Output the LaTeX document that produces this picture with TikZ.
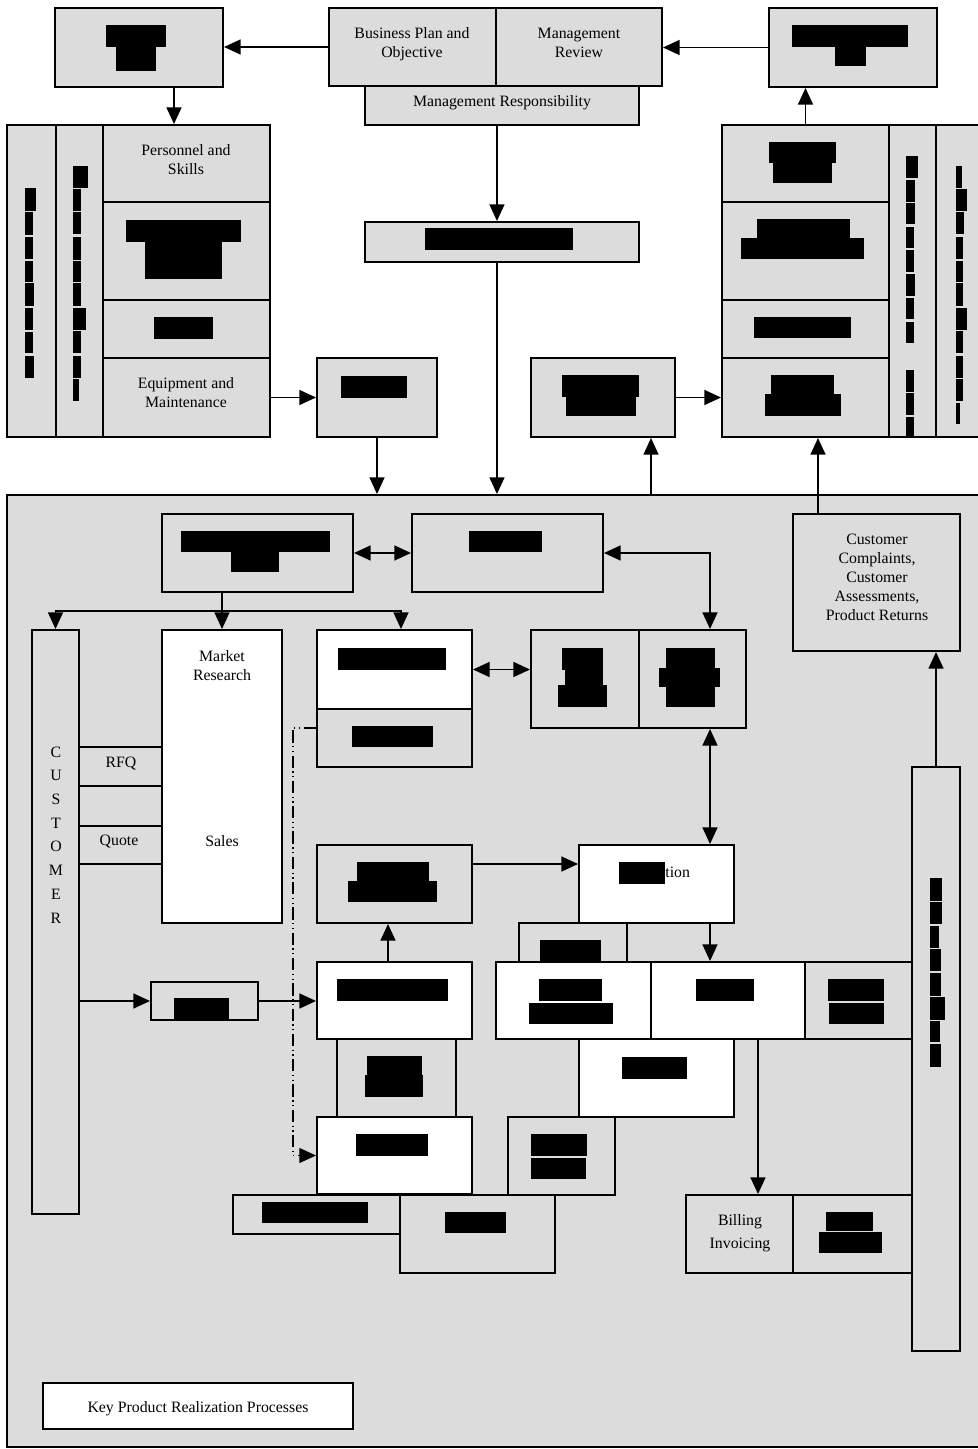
\documentclass[tikz,border=0pt]{standalone}
\usepackage{fontspec}
\setmainfont{Liberation Serif}
\usetikzlibrary{fit,arrows.meta}
\definecolor{boxgray}{RGB}{220,220,220}
\tikzset{
gbox/.style={draw, fill=boxgray, line width=1.1pt, inner sep=0pt},
wbox/.style={gbox, fill=white},
arr/.style={line width=1pt, -{Triangle[length=9.5pt,width=8.5pt]}},
darr/.style={line width=1pt, {Triangle[length=9.5pt,width=8.5pt]}-{Triangle[length=9.5pt,width=8.5pt]}},
ddot/.style={line width=0.7pt, dash pattern=on 7pt off 2pt on 0.7pt off 2pt on 0.7pt off 2pt,
	-{Triangle[length=9.5pt,width=8.5pt]}},
redact/.style={fill=black},
txt/.style={font=\fontsize{9}{10.8}\selectfont, align=center, inner sep=0pt}
}
\newcommand{\mkbox}[6]{\node[#1, fit={(#3,#4) (#5,#6)}] (#2) {};}

\begin{document}
\begin{tikzpicture}[x=0.02cm, y=-0.02cm]
	\useasboundingbox (0,0) rectangle (977,1449);
	% management level
	\mkbox{gbox}{plan}{55}{8}{223}{87}
	\mkbox{gbox}{bizplan}{329}{8}{496}{86}
	\mkbox{gbox}{mgmtrev}{496}{8}{662}{86}
	\mkbox{gbox}{mgmtresp}{365}{86}{639}{125}
	\mkbox{gbox}{topright}{769}{8}{937}{87}
	\mkbox{gbox}{midbox}{365}{222}{639}{262}
	% resources block
	\mkbox{gbox}{lcol1}{7}{125}{56}{437}
	\mkbox{gbox}{lcol2}{56}{125}{103}{437}
	\mkbox{gbox}{pers}{103}{125}{270}{202}
	\mkbox{gbox}{lcell2}{103}{202}{270}{300}
	\mkbox{gbox}{lcell3}{103}{300}{270}{358}
	\mkbox{gbox}{equip}{103}{358}{270}{437}
	\mkbox{gbox}{equipnext}{317}{358}{437}{437}
	% measurement block
	\mkbox{gbox}{rcell1}{722}{125}{889}{202}
	\mkbox{gbox}{rcell2}{722}{202}{889}{300}
	\mkbox{gbox}{rcell3}{722}{300}{889}{358}
	\mkbox{gbox}{rcell4}{722}{358}{889}{437}
	\mkbox{gbox}{rcol1}{889}{125}{936}{437}
	\mkbox{gbox}{rcol2}{936}{125}{990}{437}
	\mkbox{gbox}{redbox}{531}{358}{675}{437}
	% key processes
	\mkbox{gbox}{frame}{7}{495}{990}{1447}
	\mkbox{gbox}{ka}{162}{514}{353}{592}
	\mkbox{gbox}{kb}{412}{514}{603}{592}
	\mkbox{gbox}{cc}{793}{514}{960}{651}
	\mkbox{gbox}{cust}{32}{630}{79}{1214}
	\mkbox{gbox}{rfq}{79}{747}{162}{786}
	\mkbox{gbox}{blank}{79}{786}{162}{826}
	\mkbox{gbox}{quote}{79}{826}{162}{864}
	\mkbox{wbox}{sales}{162}{630}{282}{923}
	\mkbox{wbox}{kc}{317}{630}{472}{709}
	\mkbox{gbox}{kc2}{317}{709}{472}{767}
	\mkbox{gbox}{kd1}{531}{630}{639}{728}
	\mkbox{gbox}{kd2}{639}{630}{746}{728}
	\mkbox{gbox}{kg}{317}{845}{472}{923}
	\mkbox{wbox}{kf}{579}{845}{734}{923}
	\mkbox{gbox}{kq}{519}{923}{627}{962}
	\mkbox{wbox}{kp1}{496}{962}{651}{1039}
	\mkbox{wbox}{kp2}{651}{962}{805}{1039}
	\mkbox{gbox}{kp3}{805}{962}{912}{1039}
	\mkbox{gbox}{ksmall}{151}{982}{258}{1020}
	\mkbox{wbox}{kh}{317}{962}{472}{1039}
	\mkbox{gbox}{ki}{337}{1039}{456}{1117}
	\mkbox{wbox}{kj}{317}{1117}{472}{1194}
	\mkbox{wbox}{kn}{579}{1039}{734}{1117}
	\mkbox{gbox}{km}{508}{1117}{615}{1195}
	\mkbox{gbox}{kk}{233}{1195}{400}{1234}
	\mkbox{gbox}{kl}{400}{1195}{555}{1273}
	\mkbox{gbox}{bill}{686}{1195}{793}{1273}
	\mkbox{gbox}{kr}{793}{1195}{912}{1273}
	\mkbox{gbox}{tall}{912}{767}{960}{1351}
	\mkbox{wbox}{key}{43}{1383}{353}{1429}

	% texts
	\node[txt] (tbiz) at (412,44) {Business Plan and\\Objective};
	\node[txt] (trev) at (579,43) {Management\\Review};
	\node[txt] (tresp) at (502,103) {Management Responsibility};
	\node[txt] (tpers) at (186,160) {Personnel and\\Skills};
	\node[txt] (tequip) at (186,393) {Equipment and\\Maintenance};
	\node[txt] (tcc) at (877,577) {Customer\\Complaints,\\Customer\\Assessments,\\Product Returns};
	\node[txt] (tmr) at (222,666) {Market\\Research};
	\node[txt] (tsales) at (222,841) {Sales};
	\node[txt] (trfq) at (121,764) {RFQ};
	\node[txt] (tquote) at (119,842) {Quote};
	\node[txt, anchor=base west] (ttion) at (665,877) {tion};
	\node[txt] (tbill) at (740,1222) {Billing};
	\node[txt] (tinv) at (740,1245) {Invoicing};
	\node[txt] (tkey) at (198,1409) {Key Product Realization Processes};
	\foreach \l [count=\i from 0] in {C,U,S,T,O,M,E,R}
		\node[txt] (c\i) at (56,{752+23.7*\i}) {\l};

	% blacked out texts
	\foreach \xa/\ya/\xb/\yb in {106/25/166/47, 116/47/156/71, 792/25/908/47, 835/47/866/66,
		425/228/573/250, 126/220/241/242, 145/242/222/279, 154/317/213/339, 341/376/407/398,
		769/142/836/163, 773/163/832/183, 757/219/850/238, 741/238/864/259, 754/317/851/338,
		771/375/834/394, 765/394/841/416, 562/375/639/397, 566/397/636/416,
		181/531/330/552, 231/552/279/572, 469/531/542/552, 338/648/446/670, 352/726/433/747,
		562/648/603/670, 565/670/603/685, 558/685/607/707, 666/648/715/668, 659/668/720/687,
		666/687/715/707, 357/862/429/881, 348/881/437/902, 619/862/665/884, 540/940/601/962,
		539/979/602/1001, 529/1003/613/1024, 696/979/754/1001, 828/979/884/1001,
		829/1003/884/1024, 174/998/229/1019, 337/979/448/1001, 367/1056/422/1075,
		365/1075/423/1097, 356/1134/428/1156, 262/1202/368/1223, 445/1212/506/1233,
		531/1134/587/1156, 531/1158/586/1179, 622/1057/687/1079, 826/1212/873/1231,
		819/1232/882/1253}
		\fill[redact] (\xa,\ya) rectangle (\xb,\yb);
	\foreach \ya/\yb/\xb in {188/211/36, 212/235/33, 237/259/33, 261/282/33, 283/306/34,
		308/330/33, 332/353/33, 356/378/34}
		\fill[redact] (25,\ya) rectangle (\xb,\yb);
	\foreach \ya/\yb/\xb in {166/188/88, 189/211/81, 212/234/81, 237/260/81, 261/282/81,
		283/306/81, 308/330/86, 331/353/81, 356/378/81, 379/401/79}
		\fill[redact] (73,\ya) rectangle (\xb,\yb);
	\foreach \ya/\yb/\xb in {156/178/918, 180/202/915, 203/224/915, 227/248/914, 250/272/914,
		274/296/915, 298/319/914, 322/343/914, 370/392/914, 393/415/914, 417/437/914}
		\fill[redact] (906,\ya) rectangle (\xb,\yb);
	\foreach \ya/\yb/\xb in {166/188/962, 189/211/967, 212/234/964, 237/259/963, 261/282/963,
		283/306/963, 308/330/967, 331/353/963, 356/378/963, 379/401/963, 403/424/960}
		\fill[redact] (956,\ya) rectangle (\xb,\yb);
	\foreach \ya/\yb/\xb in {878/901/942, 902/924/942, 926/948/939, 949/971/941, 973/996/941,
		997/1020/945, 1021/1042/940, 1044/1067/941}
		\fill[redact] (930,\ya) rectangle (\xb,\yb);

	% connectors
	\draw[arr] (bizplan.west) -- (bizplan.west -| plan.east);
	\draw[arr] (plan.south -| 174,0) -- (pers.north -| 174,0);
	\draw[arr] (topright.west) -- (topright.west -| mgmtrev.east);
	\draw[arr] (rcell1.north) -- (rcell1.north |- topright.south);
	\draw[arr] (mgmtresp.south -| bizplan.south east) -- (midbox.north -| bizplan.south east);
	\draw[arr] (midbox.south -| bizplan.south east) -- (frame.north -| bizplan.south east);
	\draw[arr] (equip.east) -- (equip.east -| equipnext.west);
	\draw[arr] (equipnext.south) -- (equipnext.south |- frame.north);
	\draw[arr] (frame.north -| 651,0) -- (redbox.south -| 651,0);
	\draw[arr] (redbox.east) -- (redbox.east -| rcell4.west);
	\draw[arr] (cc.north -| 818,0) -- (rcell4.south -| 818,0);
	\draw[darr] (ka.east) -- (ka.east -| kb.west);
	\coordinate (split) at (222,611);
	\draw[line width=1pt] (ka.south -| split) -- (split);
	\draw[arr] (split) -| (cust.north);
	\draw[arr] (split) -- (sales.north);
	\draw[arr] (split) -| (kc.north -| 401,0);
	\draw[darr] (kb.east) -| (kd2.north -| 710,0);
	\draw[darr] (kc.east) -- (kc.east -| kd1.west);
	\draw[darr] (kd2.south -| 710,0) -- (kf.north -| 710,0);
	\draw[arr] (kg.east |- 0,864) -- (kf.west |- 0,864);
	\draw[arr] (kh.north -| 388,0) -- (kg.south -| 388,0);
	\draw[arr] (cust.east |- ksmall.west) -- (ksmall.west);
	\draw[arr] (ksmall.east) -- (ksmall.east -| kh.west);
	\draw[arr] (kf.south -| 710,0) -- (kp2.north -| 710,0);
	\draw[arr] (kp2.south -| 758,0) -- (bill.north -| 758,0);
	\draw[arr] (tall.north) -- (tall.north |- cc.south);
	\draw[ddot] (kc2.west |- 0,728) -| (kj.west -| 293,0) -- (kj.west);
\end{tikzpicture}
\end{document}
